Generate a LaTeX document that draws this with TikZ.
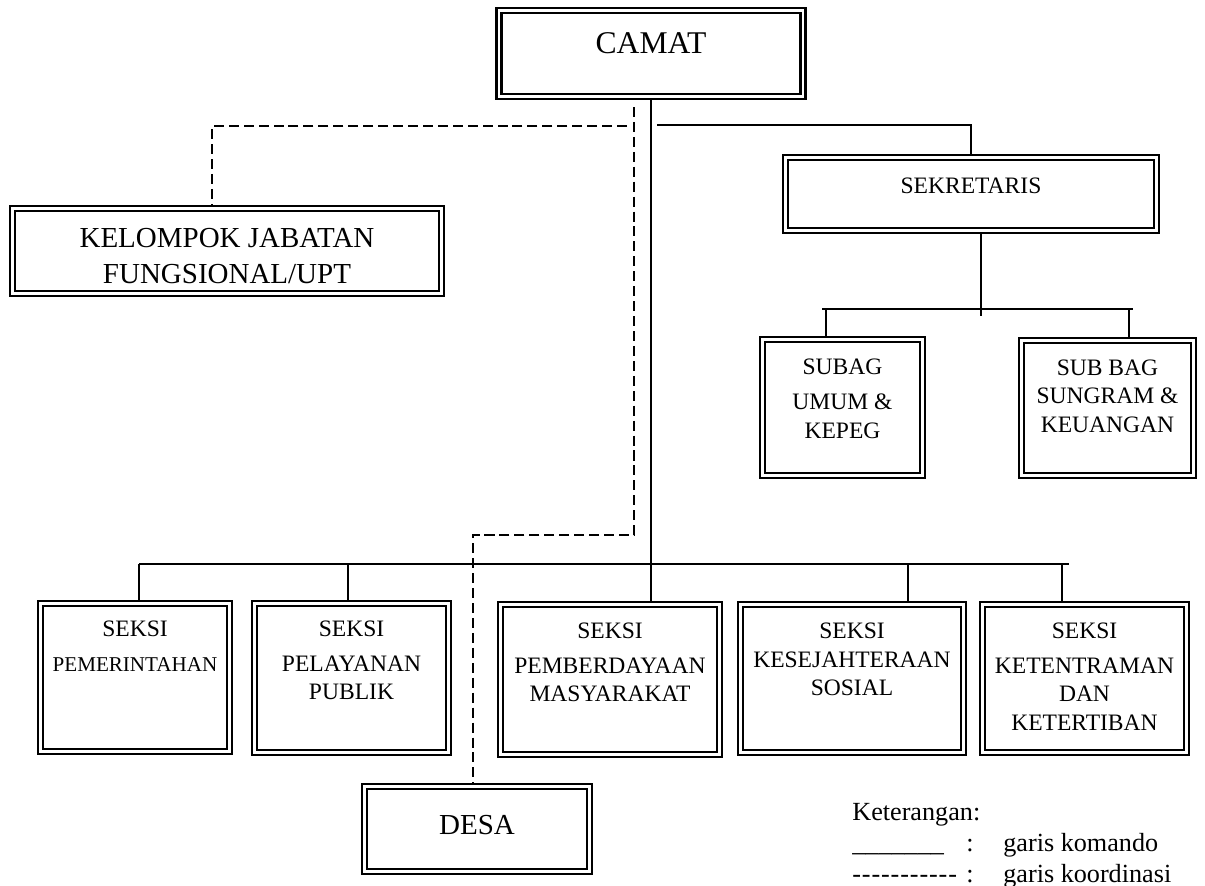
\documentclass[tikz,border=0pt]{standalone}
\usepackage{fontspec}
\setmainfont{Liberation Serif}
\usetikzlibrary{positioning}

\tikzstyle{block} = [draw, rectangle, double, line width=1.4pt,
                     double distance=1.3pt, outer sep=2pt, inner sep=0pt]
\tikzstyle{isi} = [inner sep=0pt, align=center]
\tikzstyle{komando} = [line width=1.1pt]
\tikzstyle{koordinasi} = [line width=1.1pt, dash pattern=on 5.7pt off 2.8pt]

\begin{document}
\begin{tikzpicture} [x=0.02cm, y=-0.02cm]

\def\fBesar{\fontsize{18}{21}\selectfont}
\def\fSedang{\fontsize{16.5}{20.5}\selectfont}
\def\fKotak{\fontsize{13.4}{16.2}\selectfont}
\def\fKecil{\fontsize{12}{14.5}\selectfont}
\def\fKet{\fontsize{14.9}{17.8}\selectfont}

\useasboundingbox (0,0) rectangle (1205,886);

% pimpinan
\node[block,
      minimum width=6.08cm,minimum height=1.72cm]
      (camat) at (651,53.5) {};
\node[isi,font=\fBesar,
      below=0.5cm of camat.north]
      (tcamat) {CAMAT};

\node[block,
      minimum width=8.58cm,minimum height=1.70cm]
      (klp) at (227,251) {};
\node[isi,font=\fSedang,
      below=0.45cm of klp.north]
      (tklp) {KELOMPOK JABATAN\\FUNGSIONAL/UPT};

\node[block,
      minimum width=7.42cm,minimum height=1.46cm]
      (sek) at (971,194) {};
\node[isi,font=\fKotak,
      below=0.48cm of sek.north]
      (tsek) {SEKRETARIS};

% sub bagian
\node[block,
      minimum width=3.20cm,minimum height=2.72cm]
      (umum) at (842.5,407.5) {};
\node[isi,font=\fKotak,
      below=0.45cm of umum.north]
      (tumum) {SUBAG\\[4pt]UMUM \&\\KEPEG};

\node[block,
      minimum width=3.44cm,minimum height=2.70cm]
      (uang) at (1107.5,408) {};
\node[isi,font=\fKotak,
      below=0.45cm of uang.north]
      (tuang) {SUB BAG\\SUNGRAM \&\\KEUANGAN};

% seksi
\node[block,
      minimum width=3.78cm,minimum height=2.96cm]
      (pem) at (135,677.5) {};
\node[isi,font=\fKotak,
      below=0.42cm of pem.north]
      (tpem) {SEKSI\\[3.4pt]{\fKecil PEMERINTAHAN}};

\node[block,
      minimum width=3.88cm,minimum height=2.98cm]
      (pel) at (351.5,678) {};
\node[isi,font=\fKotak,
      below=0.42cm of pel.north]
      (tpel) {SEKSI\\[3.4pt]PELAYANAN\\PUBLIK};

\node[block,
      minimum width=4.38cm,minimum height=3.00cm]
      (pmb) at (610,679.5) {};
\node[isi,font=\fKotak,
      below=0.44cm of pmb.north]
      (tpmb) {SEKSI\\[3.4pt]PEMBERDAYAAN\\MASYARAKAT};

\node[block,
      minimum width=4.46cm,minimum height=2.96cm]
      (ksj) at (852,678.5) {};
\node[isi,font=\fKotak,
      below=0.44cm of ksj.north]
      (tksj) {SEKSI\\KESEJAHTERAAN\\SOSIAL};

\node[block,
      minimum width=4.08cm,minimum height=2.96cm]
      (ktt) at (1084.5,678.5) {};
\node[isi,font=\fKotak,
      below=0.44cm of ktt.north]
      (tktt) {SEKSI\\[3.4pt]KETENTRAMAN\\DAN\\KETERTIBAN};

\node[block,
      minimum width=4.50cm,minimum height=1.70cm]
      (desa) at (477,829) {};
\node[isi,font=\fSedang,
      below=0.64cm of desa.north]
      (tdesa) {DESA};

% keterangan
\node[inner sep=0pt,font=\fKet,
      anchor=base west]
      (ket) at (852,820)
      {\begin{tabular}[t]{@{}p{2.28cm}@{}p{0.74cm}@{}l@{}}
       \multicolumn{3}{@{}l@{}}{Keterangan:}\\
       \_\_\_\_\_\_\_ & : & garis komando\\
       -\kern.5pt-\kern.5pt-\kern.5pt-\kern.5pt-\kern.5pt-\kern.5pt%
       -\kern.5pt-\kern.5pt-\kern.5pt-\kern.5pt- & : & garis koordinasi
       \end{tabular}};

% titik bantu garis
\coordinate (s0) at (657,125);
\coordinate (s2) at (981,316);
\coordinate (sbL) at (822,309);
\coordinate (sbR) at (1133,309);
\coordinate (sb1) at (826,309);
\coordinate (sb2) at (1129,309);

\coordinate (busL) at (139,564);
\coordinate (busR) at (1069,564);
\coordinate (b2) at (348,564);
\coordinate (b4) at (908,564);
\coordinate (b5) at (1062,564);

\coordinate (k0) at (627,126);
\coordinate (k1) at (212,126);
\coordinate (d0) at (634,107);
\coordinate (d1) at (634,535);
\coordinate (d2) at (473,535);

% garis komando
\draw[komando]
     (camat.south) -- (camat.south |- pmb.north);

\draw[komando]
     (s0) -| (sek.north);

\draw[komando]
     (s2 |- sek.south) -- (s2);

\draw[komando]
     (sbL) -- (sbR);

\draw[komando]
     (sb1) -- (sb1 |- umum.north);

\draw[komando]
     (sb2) -- (sb2 |- uang.north);

\draw[komando]
     (busL) -- (busR);

\draw[komando]
     (busL) -- (busL |- pem.north);

\draw[komando]
     (b2) -- (b2 |- pel.north);

\draw[komando]
     (b4) -- (b4 |- ksj.north);

\draw[komando]
     (b5) -- (b5 |- ktt.north);

% garis koordinasi
\draw[koordinasi]
     (k0) -- (k1) -- (k1 |- klp.north);

\draw[koordinasi]
     (d0) -- (d1) -- (d2) -- (d2 |- desa.north);

\end{tikzpicture}
\end{document}
